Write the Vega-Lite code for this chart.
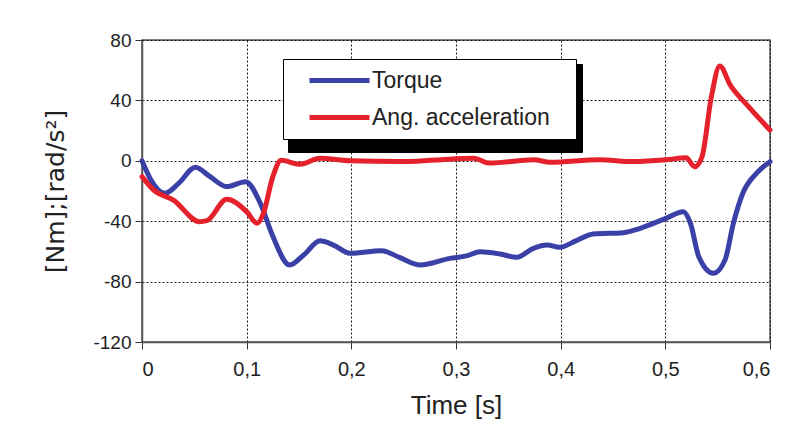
{
  "$schema": "https://vega.github.io/schema/vega-lite/v6.json",
  "width": 628,
  "height": 302,
  "autosize": "none",
  "padding": {"left": 142, "top": 40, "right": 35, "bottom": 101},
  "background": "white",
  "config": {
    "view": {"stroke": "#555555", "strokeWidth": 1.5},
    "font": "Liberation Sans"
  },
  "data": {
    "values": [
      {"t": 0, "v": 0, "s": "Torque"},
      {"t": 0.008, "v": -12, "s": "Torque"},
      {"t": 0.022, "v": -21.5, "s": "Torque"},
      {"t": 0.035, "v": -15, "s": "Torque"},
      {"t": 0.051, "v": -4.3, "s": "Torque"},
      {"t": 0.065, "v": -10.5, "s": "Torque"},
      {"t": 0.081, "v": -17.1, "s": "Torque"},
      {"t": 0.099, "v": -13.8, "s": "Torque"},
      {"t": 0.113, "v": -28, "s": "Torque"},
      {"t": 0.125, "v": -50, "s": "Torque"},
      {"t": 0.141, "v": -69, "s": "Torque"},
      {"t": 0.155, "v": -62, "s": "Torque"},
      {"t": 0.17, "v": -53, "s": "Torque"},
      {"t": 0.183, "v": -55.8, "s": "Torque"},
      {"t": 0.199, "v": -61.3, "s": "Torque"},
      {"t": 0.229, "v": -59.5, "s": "Torque"},
      {"t": 0.246, "v": -64, "s": "Torque"},
      {"t": 0.266, "v": -69, "s": "Torque"},
      {"t": 0.294, "v": -64.6, "s": "Torque"},
      {"t": 0.31, "v": -63, "s": "Torque"},
      {"t": 0.323, "v": -60.2, "s": "Torque"},
      {"t": 0.342, "v": -61.7, "s": "Torque"},
      {"t": 0.358, "v": -63.9, "s": "Torque"},
      {"t": 0.374, "v": -58, "s": "Torque"},
      {"t": 0.387, "v": -55.8, "s": "Torque"},
      {"t": 0.399, "v": -57.3, "s": "Torque"},
      {"t": 0.415, "v": -52.9, "s": "Torque"},
      {"t": 0.431, "v": -48.5, "s": "Torque"},
      {"t": 0.46, "v": -47.6, "s": "Torque"},
      {"t": 0.476, "v": -44.7, "s": "Torque"},
      {"t": 0.501, "v": -38, "s": "Torque"},
      {"t": 0.517, "v": -33.7, "s": "Torque"},
      {"t": 0.524, "v": -41.4, "s": "Torque"},
      {"t": 0.532, "v": -63.5, "s": "Torque"},
      {"t": 0.546, "v": -74.5, "s": "Torque"},
      {"t": 0.557, "v": -65.7, "s": "Torque"},
      {"t": 0.565, "v": -41.4, "s": "Torque"},
      {"t": 0.574, "v": -21.5, "s": "Torque"},
      {"t": 0.587, "v": -8.3, "s": "Torque"},
      {"t": 0.6, "v": -0.6, "s": "Torque"},
      {"t": 0, "v": -10.5, "s": "Ang. acceleration"},
      {"t": 0.011, "v": -19.3, "s": "Ang. acceleration"},
      {"t": 0.03, "v": -26, "s": "Ang. acceleration"},
      {"t": 0.055, "v": -40.3, "s": "Ang. acceleration"},
      {"t": 0.062, "v": -39.6, "s": "Ang. acceleration"},
      {"t": 0.081, "v": -25.5, "s": "Ang. acceleration"},
      {"t": 0.1, "v": -33.7, "s": "Ang. acceleration"},
      {"t": 0.11, "v": -41.4, "s": "Ang. acceleration"},
      {"t": 0.116, "v": -34.8, "s": "Ang. acceleration"},
      {"t": 0.125, "v": -10.5, "s": "Ang. acceleration"},
      {"t": 0.133, "v": 0.3, "s": "Ang. acceleration"},
      {"t": 0.151, "v": -2.3, "s": "Ang. acceleration"},
      {"t": 0.17, "v": 1.7, "s": "Ang. acceleration"},
      {"t": 0.199, "v": 0, "s": "Ang. acceleration"},
      {"t": 0.246, "v": -0.5, "s": "Ang. acceleration"},
      {"t": 0.28, "v": 0.5, "s": "Ang. acceleration"},
      {"t": 0.317, "v": 1.7, "s": "Ang. acceleration"},
      {"t": 0.332, "v": -1.5, "s": "Ang. acceleration"},
      {"t": 0.374, "v": 0.7, "s": "Ang. acceleration"},
      {"t": 0.39, "v": -1, "s": "Ang. acceleration"},
      {"t": 0.437, "v": 0.7, "s": "Ang. acceleration"},
      {"t": 0.469, "v": -0.5, "s": "Ang. acceleration"},
      {"t": 0.501, "v": 0.7, "s": "Ang. acceleration"},
      {"t": 0.52, "v": 2, "s": "Ang. acceleration"},
      {"t": 0.528, "v": -4, "s": "Ang. acceleration"},
      {"t": 0.535, "v": 2.6, "s": "Ang. acceleration"},
      {"t": 0.544, "v": 42.5, "s": "Ang. acceleration"},
      {"t": 0.552, "v": 62.8, "s": "Ang. acceleration"},
      {"t": 0.562, "v": 50.2, "s": "Ang. acceleration"},
      {"t": 0.578, "v": 37, "s": "Ang. acceleration"},
      {"t": 0.6, "v": 20.4, "s": "Ang. acceleration"}
    ]
  },
  "mark": {"type": "line", "strokeWidth": 5, "interpolate": "monotone", "strokeCap": "round", "strokeJoin": "round"},
  "encoding": {
    "x": {
      "field": "t", "type": "quantitative",
      "scale": {"domain": [0, 0.6], "nice": false, "zero": false},
      "axis": {
        "values": [0, 0.1, 0.2, 0.3, 0.4, 0.5, 0.6],
        "labelExpr": "datum.value == 0 ? '0' : replace(format(datum.value, '.1f'), '.', ',')",
        "title": "Time [s]",
        "titleFont": "Liberation Sans", "titleFontSize": 26, "titleFontWeight": "normal", "titleColor": "#222",
        "titlePadding": 13,
        "labelFontSize": 20, "labelColor": "#222", "labelPadding": 10,
        "tickSize": 7, "tickColor": "#333", "domainColor": "#555", "domainWidth": 1.5,
        "grid": true, "gridColor": "#000", "gridDash": [2, 2], "gridOpacity": 0.9, "gridWidth": 1
      }
    },
    "y": {
      "field": "v", "type": "quantitative",
      "scale": {"domain": [-120, 80], "nice": false, "zero": false},
      "axis": {
        "values": [-120, -80, -40, 0, 40, 80],
        "labelExpr": "'' + datum.value",
        "title": "[Nm];[rad/s²]",
        "titleFont": "DejaVu Sans", "titleFontSize": 25, "titleFontWeight": "normal", "titleColor": "#222",
        "titlePadding": 24,
        "labelFontSize": 19, "labelColor": "#222", "labelPadding": 4,
        "tickSize": 7, "tickColor": "#333", "domainColor": "#555", "domainWidth": 1.5,
        "grid": true, "gridColor": "#000", "gridDash": [2, 2], "gridOpacity": 0.9, "gridWidth": 1
      }
    },
    "color": {
      "field": "s", "type": "nominal",
      "scale": {"domain": ["Torque", "Ang. acceleration"], "range": ["#3a40a6", "#e5222b"]},
      "legend": {
        "title": null, "zindex": 2,
        "orient": "none", "legendX": 141, "legendY": 19,
        "symbolType": "M-3,0H3", "symbolSize": 400, "symbolStrokeWidth": 5,
        "labelFontSize": 23, "labelColor": "#222", "labelFont": "Liberation Sans", "labelLimit": 600,
        "labelOffset": 20, "rowPadding": 12,
        "padding": 9, "symbolOffset": 35,
        "labelExpr": "datum.label + '\u2800'",
        "strokeColor": "#000", "fillColor": "#fff"
      }
    },
    "opacity": {
      "field": "s", "type": "nominal",
      "scale": {"range": [1, 1]},
      "legend": {
        "title": null, "zindex": 1,
        "orient": "none", "legendX": 146, "legendY": 24,
        "symbolType": "M-3,0H3", "symbolSize": 400, "symbolStrokeWidth": 5,
        "symbolStrokeColor": "#000", "symbolFillColor": "#000",
        "labelFontSize": 23, "labelColor": "#000", "labelFont": "Liberation Sans", "labelLimit": 600,
        "labelOffset": 216, "rowPadding": 20,
        "padding": 9, "symbolOffset": 35,
        "labelExpr": "''",
        "strokeColor": "#000", "fillColor": "#000"
      }
    }
  }
}
